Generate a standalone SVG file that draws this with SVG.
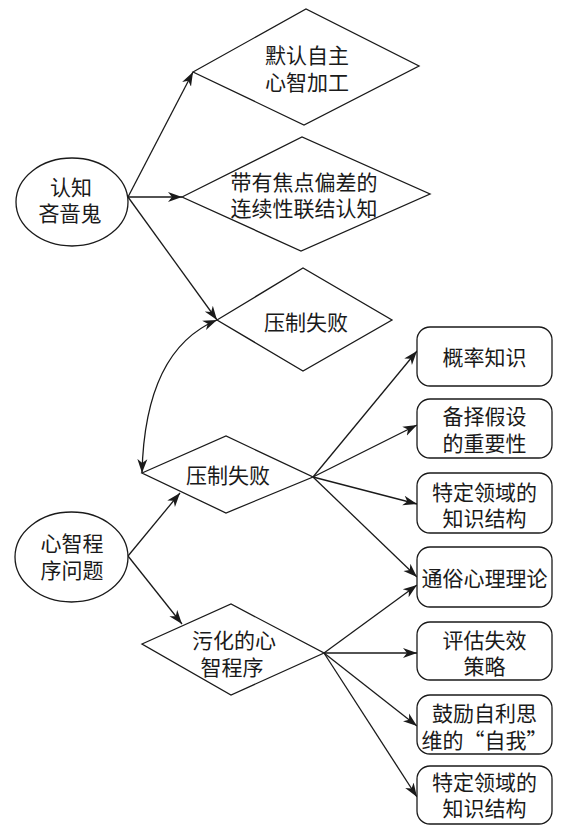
<svg xmlns="http://www.w3.org/2000/svg" width="563" height="836" viewBox="0 0 563 836">
<defs>
<marker id="ah" markerUnits="userSpaceOnUse" markerWidth="16" markerHeight="12" refX="14" refY="5" orient="auto-start-reverse" viewBox="0 0 16 10">
<path d="M0,0 L14,5 L0,10 L4,5 Z" fill="#1a1a1a"/>
</marker>
<style>
.sh{fill:#fff;stroke:#1a1a1a;stroke-width:1.3}
.t{font-family:"Noto Sans CJK SC","Noto Sans CJK JP",sans-serif;font-size:21px;fill:#1a1a1a;text-anchor:middle}
.c{fill:none;stroke:#1a1a1a;stroke-width:1.3}
</style>
</defs>
<rect width="563" height="836" fill="#fff"/>
<g id="connectors">
<path class="c" d="M128,197 L193,72" marker-end="url(#ah)"/>
<path class="c" d="M128,197 L182,197" marker-end="url(#ah)"/>
<path class="c" d="M128,197 L217,320" marker-end="url(#ah)"/>
<path class="c" d="M217,320 Q145,350 142,473" marker-start="url(#ah)" marker-end="url(#ah)"/>
<path class="c" d="M128,556 L180,493" marker-end="url(#ah)"/>
<path class="c" d="M128,556 L182,624" marker-end="url(#ah)"/>
<path class="c" d="M313,477 L417,351" marker-end="url(#ah)"/>
<path class="c" d="M313,477 L417,425" marker-end="url(#ah)"/>
<path class="c" d="M313,477 L417,504" marker-end="url(#ah)"/>
<path class="c" d="M313,477 L417,577" marker-end="url(#ah)"/>
<path class="c" d="M324,653 L417,585" marker-end="url(#ah)"/>
<path class="c" d="M324,653 L417,653" marker-end="url(#ah)"/>
<path class="c" d="M324,653 L417,726" marker-end="url(#ah)"/>
<path class="c" d="M324,653 L417,797" marker-end="url(#ah)"/>
</g>
<g id="n-miser">
<ellipse class="sh" cx="72" cy="202" rx="56" ry="44"/>
<text class="t" x="71" y="195">认知</text>
<text class="t" x="70" y="221">吝啬鬼</text>
</g>
<g id="n-default">
<polygon class="sh" points="193,72 306,9 419,66 304,125"/>
<text class="t" x="307" y="63">默认自主</text>
<text class="t" x="307" y="90">心智加工</text>
</g>
<g id="n-focal">
<polygon class="sh" points="182,197 302,137 430,194 301,251"/>
<text class="t" x="304" y="190">带有焦点偏差的</text>
<text class="t" x="304" y="216">连续性联结认知</text>
</g>
<g id="n-override1">
<polygon class="sh" points="217,320 303,268 392,320 303,371"/>
<text class="t" x="306" y="330">压制失败</text>
</g>
<g id="n-mindware">
<ellipse class="sh" cx="71.5" cy="557" rx="56.5" ry="45"/>
<text class="t" x="72" y="551">心智程</text>
<text class="t" x="72" y="578">序问题</text>
</g>
<g id="n-override2">
<polygon class="sh" points="142,473 226,436 313,477 226,513"/>
<text class="t" x="228" y="483">压制失败</text>
</g>
<g id="n-contaminated">
<polygon class="sh" points="142,644 231,604 324,653 231,695"/>
<text class="t" x="234" y="648">污化的心</text>
<text class="t" x="232" y="675">智程序</text>
</g>
<g id="n-b1">
<rect class="sh" x="417" y="327" width="135" height="59" rx="13"/>
<text class="t" x="484.5" y="365">概率知识</text>
</g>
<g id="n-b2">
<rect class="sh" x="417" y="399" width="135" height="59" rx="13"/>
<text class="t" x="484.5" y="424">备择假设</text>
<text class="t" x="484.5" y="451">的重要性</text>
</g>
<g id="n-b3">
<rect class="sh" x="417" y="473" width="135" height="60" rx="13"/>
<text class="t" x="484.5" y="500">特定领域的</text>
<text class="t" x="484.5" y="526">知识结构</text>
</g>
<g id="n-b4">
<rect class="sh" x="417" y="547" width="135" height="60" rx="13"/>
<text class="t" x="484.5" y="586">通俗心理理论</text>
</g>
<g id="n-b5">
<rect class="sh" x="417" y="622" width="135" height="58" rx="13"/>
<text class="t" x="484.5" y="648">评估失效</text>
<text class="t" x="484.5" y="674">策略</text>
</g>
<g id="n-b6">
<rect class="sh" x="417" y="695" width="135" height="59" rx="13"/>
<text class="t" x="484.5" y="721">鼓励自利思</text>
<text class="t" x="484.5" y="748">维的“自我”</text>
</g>
<g id="n-b7">
<rect class="sh" x="417" y="766" width="135" height="58" rx="13"/>
<text class="t" x="484.5" y="790">特定领域的</text>
<text class="t" x="484.5" y="816">知识结构</text>
</g>
</svg>
